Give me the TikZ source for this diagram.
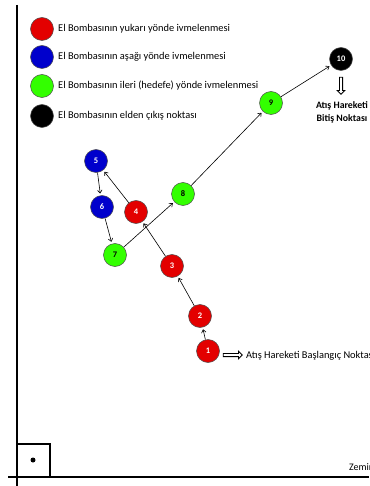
\documentclass[tikz,border=0pt]{standalone}
\usepackage{fontspec}
\setmainfont{Carlito}
\usetikzlibrary{arrows.meta, positioning, shapes.arrows}
\definecolor{bombred}{HTML}{E30000}
\definecolor{bombblue}{HTML}{0000CC}
\definecolor{bombgreen}{HTML}{33FF00}
\definecolor{rimgray}{HTML}{4A4A4A}

\begin{document}
\begin{tikzpicture}[x=1pt, y=-1pt,
  ball/.style={circle, draw=rimgray, line width=0.5pt, minimum size=23pt, inner sep=0pt, font=\fontsize{8.5}{8.5}\selectfont\bfseries},
  redball/.style={ball, fill=bombred, text=white},
  blueball/.style={ball, fill=bombblue, text=white},
  greenball/.style={ball, fill=bombgreen, text=black},
  blackball/.style={ball, fill=black, text=white},
  legendtext/.style={anchor=west, inner sep=0pt, font=\fontsize{10.4}{10.4}\selectfont},
  move/.style={-{To[length=3.5pt, width=5pt]}, line width=0.6pt, shorten >=2pt},
  hollow/.style={single arrow, draw=black, line width=0.8pt, fill=white, inner sep=1.2pt, minimum height=19pt, single arrow head extend=2.2pt}
]
  \useasboundingbox (0,0) rectangle (369,486);

  % Axes
  \draw[line width=1.8pt] (17,5) -- (17,486);
  \draw[line width=1.8pt] (8,477) -- (369,477);

  % Corner box
  \draw[line width=1.5pt] (17,444) rectangle (50,477);
  \fill (33,460) circle (2.5);
  \node[anchor=base west, inner sep=0pt, font=\fontsize{10}{10}\selectfont] (ground) at (349,470) {Zemin};

  % Legend
  \foreach \y/\sty/\txt in {29/redball/El Bombasının yukarı yönde ivmelenmesi,
                           57/blueball/El Bombasının aşağı yönde ivmelenmesi,
                           86/greenball/El Bombasının ileri (hedefe) yönde ivmelenmesi,
                           116/blackball/El Bombasının elden çıkış noktası} {
    \node[\sty] (key\y) at (42,\y) {};
    \node[legendtext] at (58,\y) {\txt};
  }

  % Throw points
  \node[redball] (n1) at (208,351) {1};
  \node[redball] (n2) at (200,316) {2};
  \node[redball] (n3) at (172,266) {3};
  \node[redball] (n4) at (136,212) {4};
  \node[blueball] (n5) at (96,161) {5};
  \node[blueball] (n6) at (102,207) {6};
  \node[greenball] (n7) at (115,255) {7};
  \node[greenball] (n8) at (183,194) {8};
  \node[greenball] (n9) at (271,103) {9};
  \node[blackball] (n10) at (341,59) {10};

  % Path of the throw
  \foreach \a/\b in {n1/n2, n2/n3, n3/n4, n4/n5, n5/n6, n6/n7, n7/n8, n8/n9, n9/n10}
    \draw[move] (\a) -- (\b);

  % Start and end marks
  \node[hollow] (startarrow) at (232,355) {};
  \node[anchor=base west, inner sep=0pt, font=\fontsize{10.4}{10.4}\selectfont] (starttext) at (246,358.5) {Atış Hareketi Başlangıç Noktası};
  \node[hollow, shape border rotate=270, minimum height=17pt] (endarrow) at (341,85) {};
  \node[align=center, inner sep=0pt, font=\fontsize{9.8}{13.3}\selectfont\bfseries] (endtext) at (342,112.5) {Atış Hareketi\\Bitiş Noktası};
\end{tikzpicture}
\end{document}
